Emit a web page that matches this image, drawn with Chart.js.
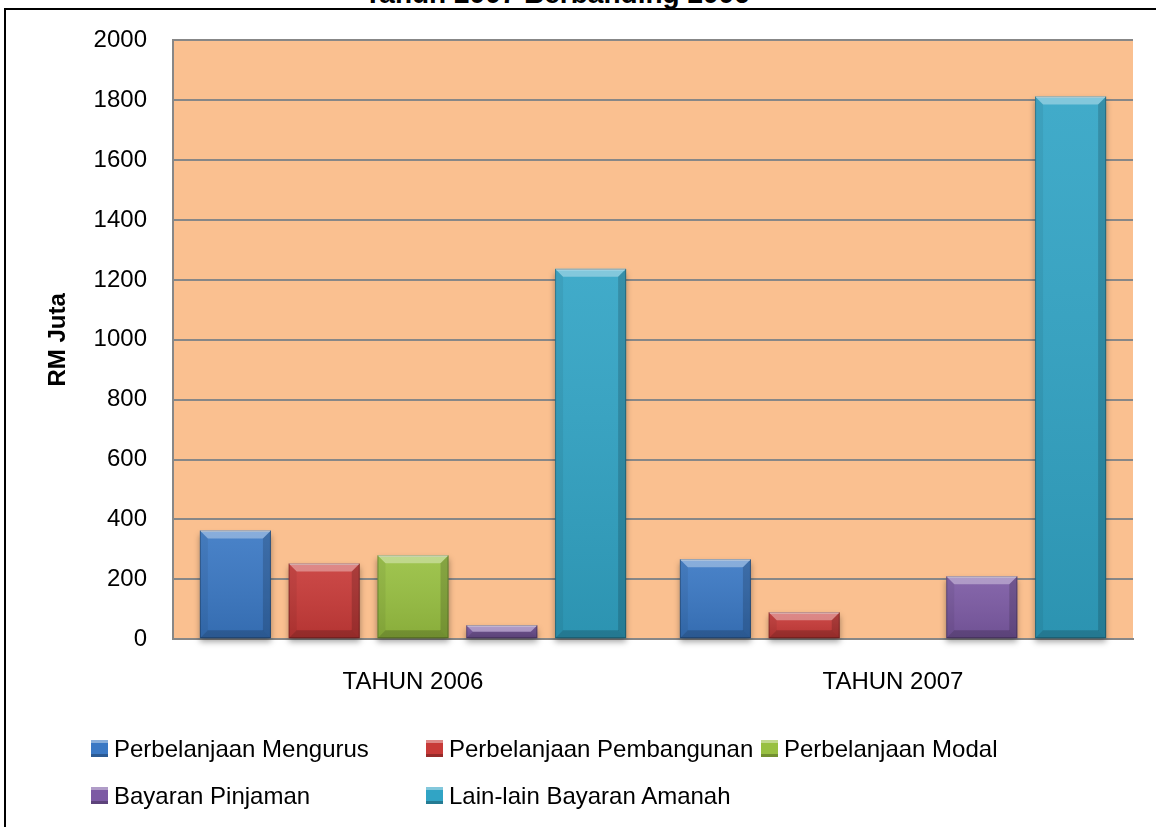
<!DOCTYPE html>
<html>
<head>
<meta charset="utf-8">
<script src="https://cdn.jsdelivr.net/npm/chart.js@4.4.0/dist/chart.umd.min.js"></script>
<style>
  html, body { margin: 0; padding: 0; background: #fff; overflow: hidden; }
  #wrap { position: relative; width: 1156px; height: 827px; overflow: hidden; font-family: "Liberation Sans", Arial, sans-serif; }
  #frame { position: absolute; left: 4px; top: 8px; width: 1200px; height: 900px; border: 2px solid #000; box-sizing: border-box; }
  #title { position: absolute; left: 0; top: -20px; width: 1114px; text-align: center; font-weight: bold; font-size: 28px; line-height: 28px; }
  #chart { position: absolute; left: 0; top: 0; }
  #legend { position: absolute; left: 91px; top: 725px; display: grid; grid-template-columns: 335px 335px 335px; grid-auto-rows: 47px; font-size: 24px; }
  .item { display: flex; align-items: center; white-space: nowrap; }
  .box { width: 17px; height: 17px; margin-right: 6px; box-shadow: inset 0 3px 0 rgba(255,255,255,.4), inset 0 -3px 0 rgba(0,0,0,.25); }
</style>
</head>
<body>
<div id="wrap">
  <div id="frame"></div>
  <div id="title">Tahun 2007 Berbanding 2006</div>
  <canvas id="chart" width="1156" height="827"></canvas>
  <div id="legend"></div>
</div>
<script>
const categories = ['TAHUN 2006', 'TAHUN 2007'];
const seriesNames = ['Perbelanjaan Mengurus', 'Perbelanjaan Pembangunan', 'Perbelanjaan Modal', 'Bayaran Pinjaman', 'Lain-lain Bayaran Amanah'];
const mengurus = [363, 267];
const pembangunan = [253, 90];
const modal = [280, 0];
const pinjaman = [47, 210];
const amanah = [1237, 1813];
const yTicks = [0, 200, 400, 600, 800, 1000, 1200, 1400, 1600, 1800, 2000];
const colors = ['#3a78c4', '#c83a38', '#98c041', '#7c5aa4', '#31a4c5'];

const seriesValues = [mengurus, pembangunan, modal, pinjaman, amanah];

// peach plot background
const plotBg = {
  id: 'plotBg',
  beforeDraw(chart) {
    const { ctx, chartArea: a } = chart;
    ctx.save();
    ctx.fillStyle = '#fac090';
    ctx.fillRect(a.left, a.top, a.right - a.left, a.bottom - a.top);
    ctx.restore();
  }
};

// soft shadow under the bars
const barShadow = {
  id: 'barShadow',
  beforeDatasetsDraw(chart) {
    const ctx = chart.ctx;
    ctx.save();
    ctx.shadowColor = 'rgba(0,0,0,0.35)';
    ctx.shadowBlur = 6;
    ctx.shadowOffsetY = 4;
  },
  afterDatasetsDraw(chart) {
    chart.ctx.restore();
  }
};

// bevelled edges like the office 3d bars
const bevel = {
  id: 'bevel',
  afterDatasetsDraw(chart) {
    const ctx = chart.ctx;
    chart.data.datasets.forEach((ds, i) => {
      chart.getDatasetMeta(i).data.forEach(el => {
        const p = el.getProps(['x', 'y', 'base', 'width'], true);
        const l = p.x - p.width / 2, r = p.x + p.width / 2;
        const t = Math.min(p.y, p.base), b = Math.max(p.y, p.base);
        const h = b - t;
        if (h < 1) return;
        const e = Math.min(8, h / 2);
        const poly = (pts, fill) => {
          ctx.beginPath();
          ctx.moveTo(pts[0], pts[1]);
          for (let k = 2; k < pts.length; k += 2) ctx.lineTo(pts[k], pts[k + 1]);
          ctx.closePath();
          ctx.fillStyle = fill;
          ctx.fill();
        };
        ctx.save();
        const g = ctx.createLinearGradient(0, t, 0, b);
        g.addColorStop(0, 'rgba(255,255,255,0.08)');
        g.addColorStop(1, 'rgba(0,0,0,0.10)');
        ctx.fillStyle = g;
        ctx.fillRect(l, t, r - l, h);
        poly([l, t, r, t, r - e, t + e, l + e, t + e], 'rgba(255,255,255,0.35)');
        poly([l, t, l + e, t + e, l + e, b - e, l, b], 'rgba(0,0,0,0.06)');
        poly([r, t, r - e, t + e, r - e, b - e, r, b], 'rgba(0,0,0,0.16)');
        poly([l, b, l + e, b - e, r - e, b - e, r, b], 'rgba(0,0,0,0.18)');
        ctx.fillStyle = 'rgba(255,255,255,0.5)';
        ctx.fillRect(l + 1, t, r - l - 2, 1.5);
        ctx.strokeStyle = 'rgba(0,0,0,0.25)';
        ctx.lineWidth = 1;
        ctx.strokeRect(l + 0.5, t + 0.5, r - l - 1, h - 1);
        ctx.restore();
      });
    });
  }
};

const chart = new Chart(document.getElementById('chart'), {
  type: 'bar',
  data: {
    labels: categories,
    datasets: seriesNames.map((name, i) => ({
      label: name,
      data: seriesValues[i],
      backgroundColor: colors[i],
      borderWidth: 0,
      categoryPercentage: 0.925,
      barPercentage: 0.8,
      clip: false
    }))
  },
  options: {
    responsive: false,
    animation: false,
    layout: { padding: { left: 44, right: 23, top: 38, bottom: 109 } },
    plugins: {
      legend: { display: false },
      tooltip: { enabled: false }
    },
    scales: {
      x: {
        grid: { display: false },
        border: { display: true, color: '#878787', width: 2 },
        ticks: { color: '#000', padding: 21, font: { family: 'Liberation Sans', size: 24 } }
      },
      y: {
        min: 0,
        max: 2000,
        afterBuildTicks: axis => { axis.ticks = yTicks.map(v => ({ value: v })); },
        afterFit: axis => { axis.width = 173 - 44; },
        grid: { color: '#878787', lineWidth: 2, drawTicks: false, tickLength: 0 },
        border: { display: true, color: '#878787', width: 2 },
        ticks: {
          color: '#000',
          padding: 26,
          font: { family: 'Liberation Sans', size: 24 },
          callback: v => String(v)
        },
        title: {
          display: true,
          text: 'RM Juta',
          color: '#000',
          padding: 0,
          font: { family: 'Liberation Sans', size: 24, weight: 'bold' }
        }
      }
    }
  },
  plugins: [plotBg, barShadow, bevel]
});

// legend laid out in equal columns like the original
const legend = document.getElementById('legend');
chart.data.datasets.forEach(ds => {
  const item = document.createElement('div');
  item.className = 'item';
  const box = document.createElement('span');
  box.className = 'box';
  box.style.background = ds.backgroundColor;
  item.appendChild(box);
  item.appendChild(document.createTextNode(ds.label));
  legend.appendChild(item);
});
</script>
</body>
</html>
